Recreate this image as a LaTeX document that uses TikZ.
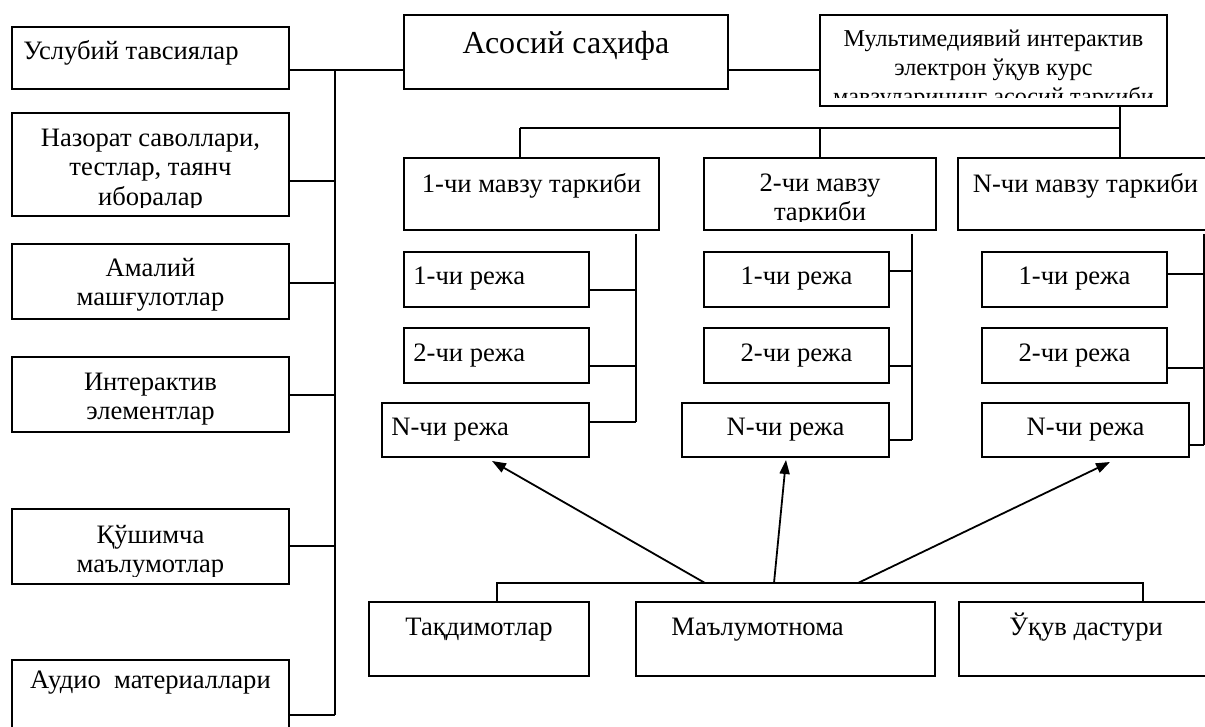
\documentclass[tikz,border=0pt]{standalone}
\usepackage{fontspec}
\setmainfont{Liberation Serif}
\usetikzlibrary{fit,calc,arrows.meta}
\tikzset{
  bx/.style={draw, line width=1pt, inner sep=0pt, fit={#1}},
  ln/.style={line width=1pt},
  arr/.style={line width=0.9pt, -{Triangle[length=7pt,width=5pt]}},
  txt/.style={font=\fontsize{13.3}{15}\selectfont, inner sep=0pt},
  txtbig/.style={font=\fontsize{16}{19}\selectfont, inner sep=0pt},
  txtsm/.style={font=\fontsize{12.1}{14}\selectfont, inner sep=0pt},
}
\newcommand\boxtext[2]{\begin{scope}\clip (#1.south west) ++(0,-9) rectangle (#1.north east); #2\end{scope}}
\begin{document}
\begin{tikzpicture}[x=0.5pt,y=-0.5pt]
\useasboundingbox (0,0) rectangle (1205,727);
\clip (0,0) rectangle (1205,727);
% left column
\node[bx={(12,27)(289,89)}] (us) {};
\boxtext{us}{\node[txt,anchor=base west] at (23,60) {Услубий тавсиялар};}
\node[bx={(12,113)(289,216)}] (nz) {};
\boxtext{nz}{\node[txt,anchor=base] at (150.5,147) {Назорат саволлари,};
 \node[txt,anchor=base] at (150.5,176) {тестлар, таянч};
 \node[txt,anchor=base] at (150.5,206) {иборалар};}
\node[bx={(12,244)(289,319)}] (am) {};
\boxtext{am}{\node[txt,anchor=base] at (150.5,277) {Амалий};
 \node[txt,anchor=base] at (150.5,306) {машғулотлар};}
\node[bx={(12,357)(289,432)}] (ia) {};
\boxtext{ia}{\node[txt,anchor=base] at (150.5,390) {Интерактив};
 \node[txt,anchor=base] at (150.5,419) {элементлар};}
\node[bx={(12,509)(289,584)}] (qm) {};
\boxtext{qm}{\node[txt,anchor=base] at (150.5,543) {Қўшимча};
 \node[txt,anchor=base] at (150.5,572) {маълумотлар};}
\node[bx={(12,660)(289,770)}] (au) {};
\boxtext{au}{\node[txt,anchor=base] at (150.5,688) {Аудио~~материаллари};}
% top
\node[bx={(404,15)(728,89)}] (main) {};
\boxtext{main}{\node[txtbig,anchor=base] at (566,54) {Асосий саҳифа};}
\node[bx={(820,15)(1167,106)}] (mm) {};
\boxtext{mm}{\node[txtsm,anchor=base] at (993.5,47) {Мультимедиявий интерактив};
 \node[txtsm,anchor=base] at (993.5,76) {электрон ўқув курс};
 \node[txtsm,anchor=base] at (993.5,105) {мавзуларининг асосий таркиби};}
% topics
\node[bx={(404,158)(659,230)}] (t1) {};
\boxtext{t1}{\node[txt,anchor=base] at (531.5,193) {1-чи мавзу таркиби};}
\node[bx={(704,158)(936,230)}] (t2) {};
\boxtext{t2}{\node[txt,anchor=base] at (820,192) {2-чи мавзу};
 \node[txt,anchor=base] at (820,221) {таркиби};}
\node[bx={(958,158)(1213,230)}] (t3) {};
\boxtext{t3}{\node[txt,anchor=base] at (1085.5,193) {N-чи мавзу таркиби};}
% plans
\node[bx={(404,252)(589,307)}] (r11) {};
\boxtext{r11}{\node[txt,anchor=base west] at (413,285) {1-чи режа};}
\node[bx={(404,328)(589,383)}] (r12) {};
\boxtext{r12}{\node[txt,anchor=base west] at (413,361) {2-чи режа};}
\node[bx={(382,403)(589,457)}] (r1N) {};
\boxtext{r1N}{\node[txt,anchor=base west] at (391,435) {N-чи режа};}
\node[bx={(704,252)(889,307)}] (r21) {};
\boxtext{r21}{\node[txt,anchor=base] at (796.5,285) {1-чи режа};}
\node[bx={(704,328)(889,383)}] (r22) {};
\boxtext{r22}{\node[txt,anchor=base] at (796.5,361) {2-чи режа};}
\node[bx={(682,403)(889,457)}] (r2N) {};
\boxtext{r2N}{\node[txt,anchor=base] at (785.5,435) {N-чи режа};}
\node[bx={(982,252)(1167,307)}] (r31) {};
\boxtext{r31}{\node[txt,anchor=base] at (1074.5,285) {1-чи режа};}
\node[bx={(982,328)(1167,383)}] (r32) {};
\boxtext{r32}{\node[txt,anchor=base] at (1074.5,361) {2-чи режа};}
\node[bx={(982,403)(1189,457)}] (r3N) {};
\boxtext{r3N}{\node[txt,anchor=base] at (1085.5,435) {N-чи режа};}
% bottom
\node[bx={(369,602)(589,676)}] (tq) {};
\boxtext{tq}{\node[txt,anchor=base] at (479,635) {Тақдимотлар};}
\node[bx={(636,602)(935,676)}] (ml) {};
\boxtext{ml}{\node[txt,anchor=base west] at (671,635) {Маълумотнома};}
\node[bx={(959,602)(1213,676)}] (uq) {};
\boxtext{uq}{\node[txt,anchor=base] at (1086,635) {Ўқув дастури};}
% left bus
\coordinate (busT) at (335,70);
\coordinate (busB) at (335,715);
\draw[ln] (busT) -- (busB);
\draw[ln] ($(us.east)+(0,12)$) -- ($(main.west)+(0,18)$);
\draw[ln] ($(main.east)+(0,18)$) -- ($(mm.west)+(0,9.5)$);
\draw[ln] ($(nz.east)+(0,16.5)$) coordinate (p) -- (p -| busT);
\draw[ln] ($(am.east)+(0,1.5)$) coordinate (p) -- (p -| busT);
\draw[ln] (ia.east) -- (ia.east -| busT);
\draw[ln] ($(qm.east)+(0,-0.5)$) coordinate (p) -- (p -| busT);
\draw[ln] (au.east) -- (au.east -| busT);
% topic bus
\draw[ln] ($(mm.south)+(126.5,0)$) coordinate (q) -- (q |- t3.north);
\coordinate (tb) at (520,128);
\draw[ln] (tb) -- (tb -| q);
\draw[ln] (tb) -- (tb |- t1.north);
\draw[ln] (t2.north |- tb) -- (t2.north);
% column buses
\coordinate (c1t) at (636,234); \coordinate (c1b) at (636,422);
\coordinate (c2t) at (912,234); \coordinate (c2b) at (912,440);
\coordinate (c3t) at (1204,234); \coordinate (c3b) at (1204,445);
\draw[ln] (c1t) -- (c1b);
\draw[ln] (c2t) -- (c2b);
\draw[ln] (c3t) -- (c3b);
\draw[ln] ($(r11.east)+(0,10.5)$) coordinate (p) -- (p -| c1t);
\draw[ln] ($(r12.east)+(0,10.5)$) coordinate (p) -- (p -| c1t);
\draw[ln] ($(r1N.east)+(0,-8)$) coordinate (p) -- (p -| c1t);
\draw[ln] ($(r21.east)+(0,-8.5)$) coordinate (p) -- (p -| c2t);
\draw[ln] ($(r22.east)+(0,10.5)$) coordinate (p) -- (p -| c2t);
\draw[ln] ($(r2N.east)+(0,10)$) coordinate (p) -- (p -| c2t);
\draw[ln] ($(r31.east)+(0,-5.5)$) coordinate (p) -- (p -| c3t);
\draw[ln] ($(r32.east)+(0,12.5)$) coordinate (p) -- (p -| c3t);
\draw[ln] ($(r3N.east)+(0,15)$) coordinate (p) -- (p -| c3t);
% bottom bus
\coordinate (bL) at (497,583);
\coordinate (bR) at (1143,583);
\draw[ln] (bL |- tq.north) -- (bL) -- (bR) -- (bR |- uq.north);
\coordinate (a1) at (705,583);
\coordinate (a2) at (774,583);
\coordinate (a3) at (858,583);
\draw[arr] (a1) -- ($(r1N.south)+(6.5,3)$);
\draw[arr] (a2) -- ($(r2N.south)+(0.5,2)$);
\draw[arr] (a3) -- ($(r3N.south)+(24.5,4)$);
\end{tikzpicture}
\end{document}
